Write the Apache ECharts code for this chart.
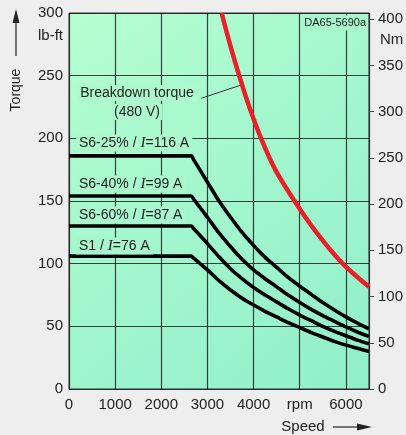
<!DOCTYPE html>
<html><head><meta charset="utf-8">
<script src="https://cdn.jsdelivr.net/npm/echarts/dist/echarts.min.js"></script>
<style>html,body{margin:0;padding:0;background:#eeeeee}#c{width:406px;height:435px}</style>
</head><body><div id="c"></div>
<script>
// ---- data ----
const speedTicks = [0, 1000, 2000, 3000, 4000, 5000, 6000];
const speedTickLabels = ['0', '1000', '2000', '3000', '4000', 'rpm', '6000'];
const torqueTicksLbft = [0, 50, 100, 150, 200, 250, 300];
const torqueTicksNm = [0, 50, 100, 150, 200, 250, 300, 350, 400];

const s6_25 = [[0,186],[2650,186],[2700,183],[3000,165],[3250,150],[3500,137],[3750,125],[4000,114.5],[4250,105],[4500,97],[4750,89],[5000,82],[5250,75.5],[5500,69],[5750,63],[6000,57.5],[6250,52.5],[6500,48]];
const s6_40 = [[0,154],[2650,154],[2700,151.5],[3000,137],[3250,124.5],[3500,113.5],[3750,103.5],[4000,95],[4250,88],[4500,81.5],[4750,75],[5000,69],[5250,63.5],[5500,58.5],[5750,54],[6000,49.5],[6250,45.5],[6500,42]];
const s6_60 = [[0,130],[2650,130],[2700,128],[3000,116],[3250,105.5],[3500,96],[3750,88],[4000,81],[4250,75],[4500,69.5],[4750,64],[5000,59],[5250,54.5],[5500,50],[5750,46],[6000,42.5],[6250,39],[6500,36]];
const s1 = [[0,106],[2650,106],[2700,104.5],[3000,95],[3250,86.5],[3500,79],[3750,72.5],[4000,67],[4250,62],[4500,57.5],[4750,53],[5000,49],[5250,45],[5500,41.5],[5750,38],[6000,35],[6250,32.5],[6500,30]];
const breakdown = [[3306,300],[3489,275],[3688,250],[3907,225],[4162,200],[4470,175],[4886,150],[5360,125],[5931,100],[6500,81.5]];
const leader = [[2866,232],[3737,242.6]];

const xMax = 6500, yMax = 300, lbftToNm = 1.35582;

const chart = echarts.init(document.getElementById('c'), null, {renderer:'canvas'});
const FONT = 'Liberation Sans, Arial, Helvetica, sans-serif';
const TXT = '#222';
const gridLine = {color:'rgba(20,20,20,0.8)', width:1.2};
function lineSeries(d){
  return {type:'line', data:d, symbol:'none', yAxisIndex:0, smooth:0.25, lineStyle:{color:'#000', width:3.6}, z:5, silent:true};
}
function label(x, y, parts, bg){
  return {type:'text', x:x, y:y, z:20, style:{text:parts, fill:TXT, font:'14px '+FONT, verticalAlign:'middle', align:'left',
    backgroundColor:bg, padding:[1,3,1,3],
    rich:{i:{fontFamily:'Liberation Serif', fontStyle:'italic', fontSize:15, fill:TXT}, n:{fontFamily:FONT, fontSize:14, fill:TXT}}}};
}
const option = {
  backgroundColor:'#eeeeee',
  animation:false,
  grid:{left:69, right:35, top:13, bottom:46, show:true, borderColor:'#333', borderWidth:1,
    backgroundColor:new echarts.graphic.LinearGradient(0,0,1,1,[{offset:0,color:'#b5fed1'},{offset:1,color:'#90efc9'}])},
  xAxis:{type:'value', min:0, max:xMax, interval:1000,
    axisLine:{show:false}, axisTick:{show:false},
    splitLine:{show:true, lineStyle:gridLine},
    axisLabel:{customValues:speedTicks, color:TXT, fontSize:15, fontFamily:FONT, margin:8,
      formatter:v=>{const i=speedTicks.indexOf(v);return i>=0?speedTickLabels[i]:'';}}},
  yAxis:[
    {type:'value', min:0, max:yMax, interval:50, position:'left',
      axisLine:{show:false}, axisTick:{show:false},
      splitLine:{show:true, lineStyle:gridLine},
      axisLabel:{customValues:torqueTicksLbft, color:TXT, fontSize:15, fontFamily:FONT, margin:6}},
    {type:'value', min:0, max:yMax*lbftToNm, interval:50, position:'right',
      axisLine:{show:false}, splitLine:{show:false},
      axisTick:{show:true, customValues:torqueTicksNm, length:5, lineStyle:{color:'#444', width:1}},
      axisLabel:{customValues:torqueTicksNm, color:TXT, fontSize:15, fontFamily:FONT, margin:9}}
  ],
  series:[
    lineSeries(s6_25), lineSeries(s6_40), lineSeries(s6_60), lineSeries(s1),
    {type:'line', data:breakdown, smooth:0.3, symbol:'none', lineStyle:{color:'#e8202a', width:4.5}, z:6, silent:true},
    {type:'line', data:leader, symbol:'none', lineStyle:{color:'#333', width:1}, z:4, silent:true}
  ],
  graphic:[
    {type:'text', x:63, y:36, style:{text:'lb-ft', fill:TXT, font:'15px '+FONT, align:'right', verticalAlign:'middle'}},
    {type:'text', x:380, y:40, style:{text:'Nm', fill:TXT, font:'15px '+FONT, align:'left', verticalAlign:'middle'}},
    {type:'text', x:367, y:23, z:20, style:{text:'DA65-5690a', fill:TXT, font:'11px '+FONT, align:'right', verticalAlign:'middle', backgroundColor:'#a8f7cc', padding:[2,1,2,2]}},
    {type:'text', x:137, y:93, z:20, style:{text:'Breakdown torque', fill:TXT, font:'14px '+FONT, align:'center', verticalAlign:'middle', backgroundColor:'#aefacf', padding:[1,3,1,3]}},
    {type:'text', x:137, y:112, z:20, style:{text:'(480 V)', fill:TXT, font:'14px '+FONT, align:'center', verticalAlign:'middle', backgroundColor:'#adf9cf', padding:[1,2,1,2]}},
    label(76, 143, '{n|S6-25% / }{i|I}{n|=116 A}', '#acf9ce'),
    label(76, 184, '{n|S6-40% / }{i|I}{n|=99 A}', '#aaf8ce'),
    label(76, 215, '{n|S6-60% / }{i|I}{n|=87 A}', '#a9f7ce'),
    label(76, 246, '{n|S1 / }{i|I}{n|=76 A}', '#a8f6cd'),
    // axis titles with arrows
    {type:'text', x:16, y:90, rotation:Math.PI/2, style:{text:'Torque', fill:TXT, font:'14px '+FONT, align:'center', verticalAlign:'middle'}},
    {type:'line', shape:{x1:16, y1:56, x2:16, y2:20}, style:{stroke:'#222', lineWidth:1.2}},
    {type:'polygon', shape:{points:[[16,9],[12.5,23],[19.5,23]]}, style:{fill:'#222'}},
    {type:'text', x:303, y:427, style:{text:'Speed', fill:TXT, font:'15px '+FONT, align:'center', verticalAlign:'middle'}},
    {type:'line', shape:{x1:333, y1:427, x2:360, y2:427}, style:{stroke:'#222', lineWidth:1.2}},
    {type:'polygon', shape:{points:[[372,427],[357,423.5],[357,430.5]]}, style:{fill:'#222'}}
  ]
};
chart.setOption(option);
</script>
</body></html>
